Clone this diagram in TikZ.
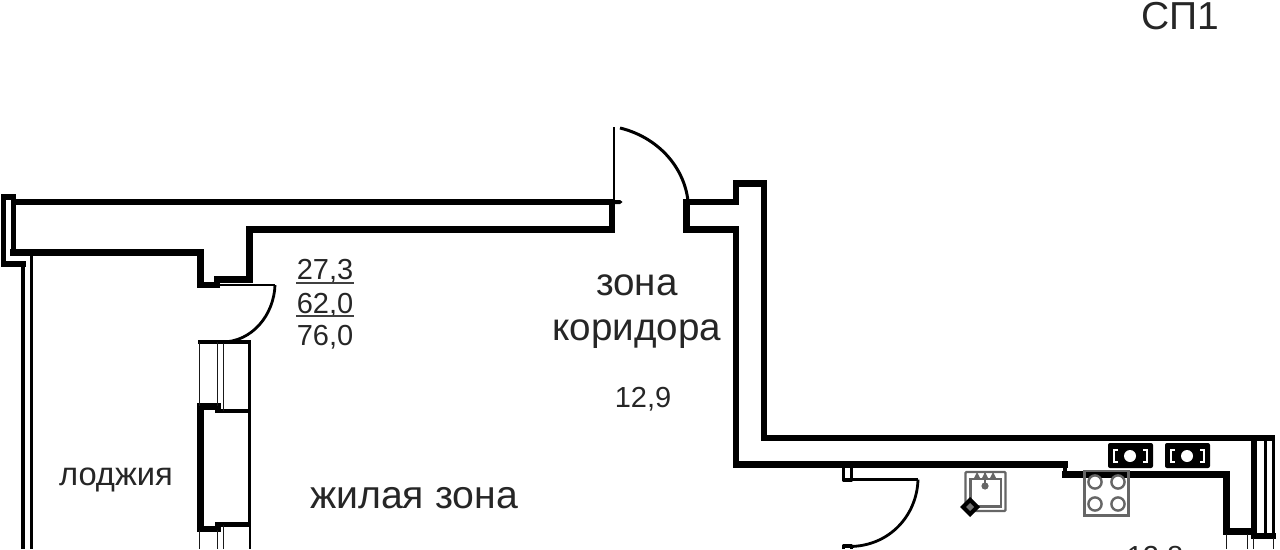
\documentclass[tikz,border=0pt]{standalone}
\usepackage{fontspec}
\setmainfont{Liberation Sans}
\begin{document}
\begin{tikzpicture}[x=1pt,y=-1pt,
  wall/.style={line width=6.2pt,line join=miter,line cap=rect,black},
  midwall/.style={line width=3.8pt,line cap=butt,black},
  glass/.style={line width=1pt,black!90},
  arcline/.style={line width=2.8pt,black},
  fixture/.style={line width=2.4pt,black!60},
  lbl/.style={text=black!85,inner sep=0pt,anchor=base}]
\useasboundingbox (0,0) rectangle (1280,549);
\clip (0,0) rectangle (1280,549);
% left end of the long wall
\draw[wall] (14,202) -- (611,202);
\draw[wall,line width=5.6pt] (3.5,197) -- (13.5,197) -- (13.5,252.5);
\draw[wall,line width=5.6pt] (3.5,197) -- (3.5,264) -- (23,264);
\draw[wall] (13.5,252.5) -- (200.5,252.5) -- (200.5,285) -- (217,285);
\draw[wall] (612,202) -- (612,229.5) -- (249.5,229.5) -- (249.5,279.5) -- (217,279.5);
% corridor to kitchen
\draw[wall] (686.5,229.5) -- (686.5,202) -- (736,202) -- (736,183.5) -- (764,183.5) -- (764,438) -- (1272,438);
\draw[wall] (686.5,229.5) -- (736,229.5) -- (736,464.5) -- (1065,464.5);
\draw[wall,line width=4pt] (1065,464.5) -- (1065,474.5);
\draw[wall] (1065,474.5) -- (1226.5,474.5) -- (1226.5,531.5) -- (1252,531.5);
% right end column
\draw[wall] (1254,438) -- (1254,536) -- (1273,536);
\draw[midwall] (1265.5,438) -- (1265.5,536);
\draw[midwall,line width=3.4pt] (1273.5,436) -- (1273.5,537);
% left loggia glazing
\draw[line width=4.2pt] (23,264) -- (23,549);
\draw[line width=3pt] (31,255) -- (31,549);
% inner pier
\draw[line width=4.2pt] (198,342) -- (251,342);
\draw[midwall] (249.5,342) -- (249.5,524);
\draw[wall] (200.5,406.5) -- (200.5,529) -- (217.5,529);
\draw[wall] (200.5,406.5) -- (217.5,406.5);
\draw[line width=4.4pt] (217,406.5) -- (217,411) -- (251,411);
\draw[line width=4.4pt] (217,529) -- (217,524.5) -- (251,524.5);
\draw[glass] (199,342) -- (199,406) (217,342) -- (217,406) (223,342) -- (223,411);
\draw[glass] (199,530) -- (199,549) (217,530) -- (217,549) (223,525) -- (223,549);
\draw[line width=2.2pt] (250,525) -- (250,549);
% balcony door
\draw[line width=2pt] (217,285) -- (275,285);
\draw[arcline] (275,285) .. controls (274,315) and (252,342) .. (222,342);
% entry door
\draw[line width=2.8pt] (614,127) -- (614,203);
\fill[black] (612,200) -- (620,200) -- (622.5,202) -- (620,204) -- (612,204) -- cycle;
\draw[line width=3pt] (620,128) .. controls (657,137) and (684,166) .. (688,201);
% inner door
\draw[line width=3.2pt,line join=round] (843.5,465) -- (843.5,480) -- (851.5,480) -- (851.5,465);
\draw[arcline] (851.5,479.5) -- (918,479.5);
\draw[arcline] (918,479.5) .. controls (917,515) and (890,546) .. (850,546.5);
\draw[line width=3.2pt,line join=round] (843.5,549) -- (843.5,546) -- (851.5,546) -- (851.5,549);
% sink
\draw[fixture,rounded corners=1pt] (965.5,472) rectangle (1005.5,511);
\draw[fixture] (970.5,479) rectangle (1001,506.5);
\fill[black!60] (985,486) circle (3.6pt);
\draw[line width=1.8pt,black!60] (985,473) -- (985,485);
\fill[black!60] (977,472) -- (980,478) -- (974,478) -- cycle (985,472) -- (988,478) -- (982,478) -- cycle (993,472) -- (996,478) -- (990,478) -- cycle;
\fill[black] (970,497) -- (980,507) -- (970,517) -- (960,507) -- cycle;
\fill[black!55] (970,503) -- (974,507) -- (970,511) -- (966,507) -- cycle;
% stove
\draw[fixture] (1084.5,471) rectangle (1128.5,515.5);
\foreach \cx in {1095,1118} \foreach \cy in {482,504} \draw[fixture,fill=white] (\cx,\cy) circle (6.6pt);
% vents
\foreach \x in {1108,1165}{
  \fill[black,rounded corners=2pt] (\x,443) rectangle (\x+45,468);
  \draw[white,line width=2.8pt] (\x+10,450) -- (\x+6,450) -- (\x+6,462) -- (\x+10,462);
  \draw[white,line width=2.8pt] (\x+35,450) -- (\x+39,450) -- (\x+39,462) -- (\x+35,462);
  \fill[white] (\x+22,456) circle (6pt);
}
% right bottom glazing
\draw[glass] (1226,534) -- (1226,549) (1247,534) -- (1247,549) (1253,538) -- (1253,549) (1273,538) -- (1273,549);
% text
\node[lbl,font=\fontsize{39}{39}\selectfont] (sp) at (1180.5,29) {СП1};
\node[lbl,font=\fontsize{38.6}{39}\selectfont] (corr1) at (637,295) {зона};
\node[lbl,font=\fontsize{38.6}{39}\selectfont] (corr2) at (637,340) {коридора};
\node[lbl,font=\fontsize{29}{29}\selectfont] (a129) at (643,407) {12,9};
\node[lbl,font=\fontsize{32.7}{33}\selectfont] (log) at (116,485) {лоджия};
\node[lbl,font=\fontsize{39.2}{39}\selectfont] (liv) at (414,508) {жилая зона};
\node[lbl,font=\fontsize{29}{29}\selectfont] (n1) at (325,279) {27,3};
\node[lbl,font=\fontsize{29}{29}\selectfont] (n2) at (325,313) {62,0};
\node[lbl,font=\fontsize{29}{29}\selectfont] (n3) at (325,345) {76,0};
\draw[line width=1.8pt,black!75] (296,283) -- (354,283) (296,316) -- (354,316);
\node[lbl,font=\fontsize{29}{29}\selectfont] (n4) at (1155,566) {12,8};
\end{tikzpicture}
\end{document}
